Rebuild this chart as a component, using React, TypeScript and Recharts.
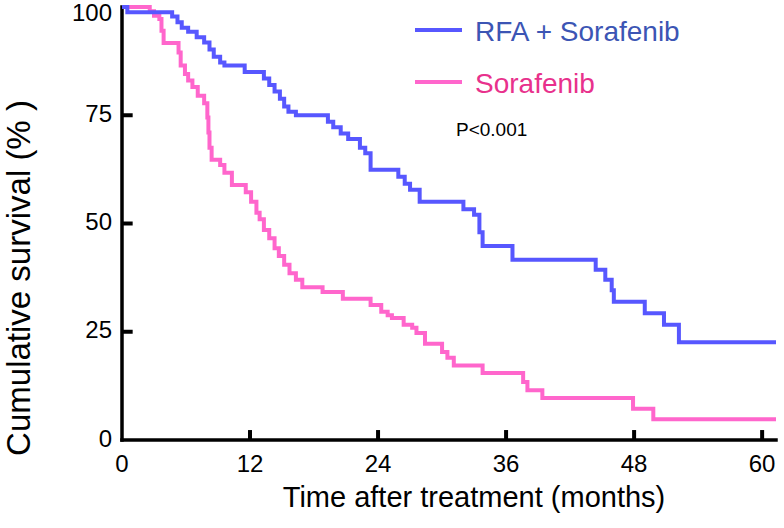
import { Line, LineChart, ReferenceLine, XAxis, YAxis } from "recharts";

const FONT = "'Liberation Sans', Arial, Helvetica, sans-serif";
const BLUE = "#5757ff";
const PINK = "#ff66cc";

// Kaplan-Meier steps (months, % surviving)
const rfaMonths = [
  0, 0.5, 4.7, 5.2, 5.6, 6.2, 7.0, 7.7, 8.2, 8.6, 9.2, 9.6, 11.5, 13.3, 13.8, 14.3, 14.8, 15.2, 15.6, 16.3,
  19.3, 19.8, 20.5, 21.2, 22.3, 22.8, 23.3, 25.9, 26.5, 27.0, 27.9, 32.0, 33.0, 33.5, 33.8, 36.6, 44.4,
  45.3, 45.9, 46.1, 49.0, 50.8, 52.2, 61.3,
];
const rfaSurvival = [
  100, 98.8, 97.8, 96.5, 95.2, 94.3, 93.0, 91.8, 90.2, 88.5, 87.2, 86.5, 85.0, 83.5, 82.0, 80.5, 78.8, 77.0, 75.8,
  75.0, 73.5, 72.2, 70.8, 69.5, 67.5, 66.2, 62.4, 60.8, 59.2, 57.8, 55.0, 53.3, 52.0, 48.0, 44.8, 41.6, 39.3,
  37.0, 34.6, 31.9, 29.3, 26.6, 22.6, 22.6,
];

const sorMonths = [
  0, 2.6, 3.0, 3.5, 3.7, 3.9, 5.3, 5.5, 5.9, 6.2, 6.6, 7.1, 7.7, 8.0, 8.1, 8.2, 8.4, 9.2, 9.6, 10.3, 11.6, 12.1,
  12.6, 12.9, 13.3, 13.8, 14.3, 14.7, 15.2, 15.7, 16.3, 16.9, 18.8, 20.7, 23.3, 24.3, 24.9, 25.3, 26.4, 27.2,
  27.6, 28.4, 30.0, 30.5, 31.1, 33.8, 37.6, 38.0, 39.4, 47.9, 49.8, 61.3,
];
const sorSurvival = [
  100, 99.0, 98.0, 97.2, 94.5, 91.7, 89.5, 86.5, 84.5, 83.0, 81.5, 79.5, 77.8, 74.5, 71.0, 67.5, 64.7, 63.5, 61.7,
  58.9, 57.2, 55.0, 52.5, 51.0, 48.5, 46.6, 44.3, 42.5, 40.5, 38.5, 37.0, 35.3, 34.2, 32.6, 31.2, 29.6, 28.8,
  28.2, 26.6, 25.9, 24.7, 22.2, 20.3, 19.0, 17.2, 15.5, 13.4, 11.5, 9.7, 7.2, 4.8, 4.8,
];

const xTicks = [0, 12, 24, 36, 48, 60];
const yTicks = [0, 25, 50, 75, 100];
const X_MAX = 61.3;

const rfaData = rfaMonths.map((t, i) => ({ t, s: rfaSurvival[i] }));
const sorData = sorMonths.map((t, i) => ({ t, s: sorSurvival[i] }));

// inward tick marks, in data units (about 10 px)
const X_TICK_LEN = 2.3;
const Y_TICK_LEN = 1.0;

interface TickProps {
  x: number;
  y: number;
  payload: { value: number };
}

function XTick({ x, y, payload }: TickProps) {
  return (
    <text x={x} y={y + 23} textAnchor="middle" dominantBaseline="central" fontFamily={FONT} fontSize={24} fill="#000">
      {payload.value}
    </text>
  );
}

function YTick({ x, y, payload }: TickProps) {
  return (
    <text
      x={x - 10}
      y={Math.max(y - 2, 12)}
      textAnchor="end"
      dominantBaseline="central"
      fontFamily={FONT}
      fontSize={24}
      fill="#000"
    >
      {payload.value}
    </text>
  );
}

const axisStyle = { stroke: "#000", strokeWidth: 3.5, strokeLinecap: "square" as const };

export default function App() {
  return (
    <div style={{ position: "absolute", left: 0, top: 0, width: 784, height: 528, background: "#fff" }}>
      <LineChart width={784} height={528} margin={{ top: 7, right: 8, bottom: 87, left: 121 }}>
        <XAxis
          dataKey="t"
          type="number"
          domain={[0, X_MAX]}
          ticks={xTicks}
          height={1}
          tickSize={0}
          tickMargin={0}
          tickLine={false}
          axisLine={false}
          tick={(p: TickProps) => <XTick {...p} />}
          allowDataOverflow
        />
        <YAxis
          type="number"
          domain={[0, 100]}
          ticks={yTicks}
          width={1}
          tickSize={0}
          tickMargin={0}
          tickLine={false}
          axisLine={false}
          tick={(p: TickProps) => <YTick {...p} />}
        />
        <ReferenceLine x={0} {...axisStyle} />
        <ReferenceLine y={0} {...axisStyle} />
        {xTicks
          .filter((v) => v > 0)
          .map((v) => (
            <ReferenceLine
              key={`xt${v}`}
              segment={[
                { x: v, y: 0 },
                { x: v, y: X_TICK_LEN },
              ]}
              ifOverflow="visible"
              stroke="#000"
              strokeWidth={4}
            />
          ))}
        {yTicks
          .filter((v) => v > 0)
          .map((v) => (
            <ReferenceLine
              key={`yt${v}`}
              segment={[
                { x: 0, y: v },
                { x: Y_TICK_LEN, y: v },
              ]}
              ifOverflow="visible"
              stroke="#000"
              strokeWidth={4}
            />
          ))}
        <Line
          data={sorData}
          dataKey="s"
          type="stepAfter"
          stroke={PINK}
          strokeWidth={4}
          dot={false}
          isAnimationActive={false}
        />
        <Line
          data={rfaData}
          dataKey="s"
          type="stepAfter"
          stroke={BLUE}
          strokeWidth={4}
          dot={false}
          isAnimationActive={false}
        />
      </LineChart>
      <svg
        width={784}
        height={528}
        style={{ position: "absolute", left: 0, top: 0, pointerEvents: "none" }}
        fontFamily={FONT}
      >
        <line x1={415} x2={462} y1={30} y2={30} stroke={BLUE} strokeWidth={4} />
        <text x={475} y={31} dominantBaseline="central" fontSize={28} fill="#3c55b4">
          RFA + Sorafenib
        </text>
        <line x1={415} x2={462} y1={82} y2={82} stroke={PINK} strokeWidth={4} />
        <text x={475} y={83} dominantBaseline="central" fontSize={28} fill="#e8318c">
          Sorafenib
        </text>
        <text x={456} y={129} dominantBaseline="central" fontSize={19} fill="#000">
          P&lt;0.001
        </text>
        <text x={474} y={497} textAnchor="middle" dominantBaseline="central" fontSize={29} fill="#000">
          Time after treatment (months)
        </text>
        <text
          x={18}
          y={278}
          textAnchor="middle"
          dominantBaseline="central"
          fontSize={33}
          fill="#000"
          transform="rotate(-90 18 278)"
        >
          Cumulative survival (% )
        </text>
      </svg>
    </div>
  );
}
